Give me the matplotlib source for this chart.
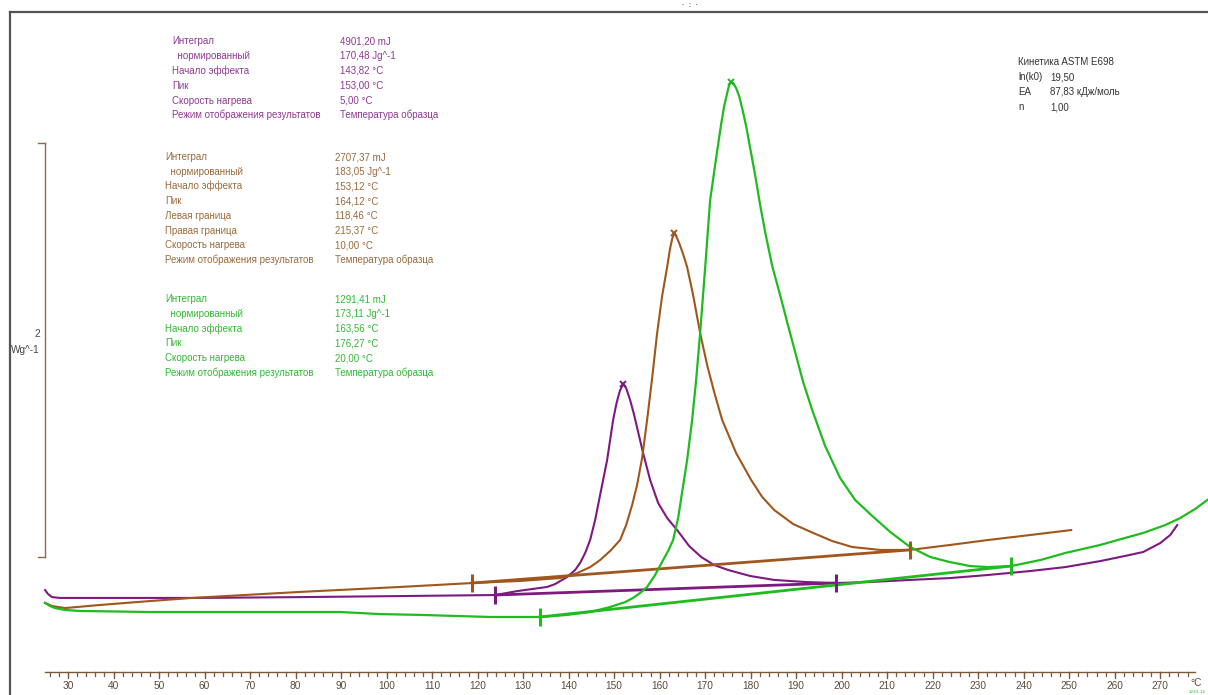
import matplotlib
matplotlib.use("Agg")
import matplotlib.pyplot as plt

# ---------------- data (°C, W/g) ----------------
purple_T = [24.95, 25.60, 26.48, 28.24, 59.01, 80.99, 102.97, 123.85, 128.68, 135.27,
            137.03, 139.67, 141.43, 142.53, 143.63, 144.73, 145.82, 146.92, 147.80, 148.46,
            149.12, 149.78, 150.44, 150.88, 151.32, 151.98, 152.64, 153.52, 154.40, 155.27,
            156.37, 157.91, 159.67, 161.65, 163.85, 166.48, 169.12, 171.98, 175.05, 179.89,
            185.16, 191.98, 198.79, 206.26, 215.05, 223.85, 232.20, 241.43, 249.12, 256.81,
            262.31, 266.26, 270.00, 272.20, 273.74]
purple_W = [0.048, 0.029, 0.014, 0.010, 0.010, 0.014, 0.019, 0.024, 0.043, 0.063,
            0.077, 0.111, 0.145, 0.179, 0.227, 0.290, 0.386, 0.507, 0.604, 0.676,
            0.773, 0.870, 0.942, 0.981, 1.014, 1.043, 1.024, 0.966, 0.894, 0.812,
            0.710, 0.580, 0.469, 0.396, 0.338, 0.261, 0.208, 0.169, 0.145, 0.116,
            0.097, 0.087, 0.082, 0.087, 0.097, 0.106, 0.121, 0.140, 0.159, 0.188,
            0.213, 0.232, 0.275, 0.314, 0.362]
purple_base_T = [123.85, 198.79]
purple_base_W = [0.024, 0.082]
purple_peak = (151.98, 1.043)

brown_T = [24.95, 26.48, 29.34, 37.03, 48.02, 57.25, 80.99, 102.97, 118.79, 129.34,
           138.13, 141.87, 144.73, 146.92, 149.12, 151.32, 152.64, 153.96, 155.05, 156.15,
           157.25, 158.35, 159.45, 160.55, 161.65, 162.31, 162.75, 163.19, 163.63, 164.29,
           165.16, 166.04, 167.36, 168.90, 170.44, 171.98, 173.74, 176.81, 180.11, 182.53,
           185.16, 189.34, 193.74, 197.91, 202.31, 208.46, 215.05, 223.85, 232.20, 241.43,
           250.44]
brown_W = [-0.014, -0.029, -0.039, -0.024, -0.005, 0.010, 0.039, 0.063, 0.082, 0.092,
           0.106, 0.130, 0.159, 0.193, 0.237, 0.290, 0.362, 0.459, 0.556, 0.686,
           0.870, 1.072, 1.290, 1.469, 1.609, 1.700, 1.744, 1.773, 1.758, 1.725,
           1.671, 1.609, 1.473, 1.290, 1.135, 1.005, 0.870, 0.710, 0.580, 0.498,
           0.435, 0.367, 0.324, 0.285, 0.256, 0.242, 0.242, 0.266, 0.290, 0.314,
           0.338]
brown_base_T = [118.79, 215.05]
brown_base_W = [0.082, 0.242]
brown_peak = (163.19, 1.773)

green_T = [24.95, 26.04, 27.14, 29.34, 32.64, 48.02, 89.78, 98.57, 107.36, 122.75,
           133.74, 139.67, 144.73, 149.12, 152.42, 154.18, 155.71, 157.25, 159.01, 160.77,
           161.87, 162.97, 164.07, 164.95, 166.04, 167.14, 168.02, 168.90, 170.00, 171.10,
           171.98, 172.64, 173.52, 174.18, 174.84, 175.27, 175.71, 176.15, 176.81, 177.47,
           178.13, 179.01, 179.89, 180.99, 182.09, 183.19, 184.73, 186.48, 188.02, 189.78,
           191.54, 193.52, 196.37, 199.67, 202.97, 206.48, 210.66, 215.05, 219.45, 223.63,
           228.24, 232.20, 237.25, 243.63, 249.12, 256.81, 262.31, 266.26, 271.10, 274.40,
           277.69, 280.33]
green_W = [-0.014, -0.029, -0.039, -0.048, -0.053, -0.058, -0.058, -0.068, -0.072, -0.082,
           -0.082, -0.072, -0.058, -0.034, -0.010, 0.010, 0.034, 0.063, 0.121, 0.193,
           0.237, 0.290, 0.396, 0.522, 0.676, 0.870, 1.063, 1.290, 1.604, 1.932,
           2.068, 2.169, 2.300, 2.386, 2.449, 2.488, 2.502, 2.498, 2.473, 2.435,
           2.377, 2.290, 2.184, 2.053, 1.908, 1.778, 1.614, 1.473, 1.343, 1.198,
           1.053, 0.918, 0.744, 0.589, 0.483, 0.411, 0.329, 0.256, 0.208, 0.184,
           0.164, 0.159, 0.164, 0.193, 0.227, 0.266, 0.300, 0.324, 0.362, 0.396,
           0.440, 0.483]
green_base_T = [133.74, 237.25]
green_base_W = [-0.082, 0.164]
green_peak = (175.71, 2.502)

x_ticks_major = list(range(30, 280, 10))
x_ticks_minor = list(range(26, 278, 2))

purple_labels = ["Интеграл", "  нормированный", "Начало эффекта", "Пик",
                 "Скорость нагрева", "Режим отображения результатов"]
purple_values = ["4901,20 mJ", "170,48 Jg^-1", "143,82 °C", "153,00 °C",
                 "5,00 °C", "Температура образца"]
brown_labels = ["Интеграл", "  нормированный", "Начало эффекта", "Пик", "Левая граница",
                "Правая граница", "Скорость нагрева", "Режим отображения результатов"]
brown_values = ["2707,37 mJ", "183,05 Jg^-1", "153,12 °C", "164,12 °C", "118,46 °C",
                "215,37 °C", "10,00 °C", "Температура образца"]
green_labels = ["Интеграл", "  нормированный", "Начало эффекта", "Пик",
                "Скорость нагрева", "Режим отображения результатов"]
green_values = ["1291,41 mJ", "173,11 Jg^-1", "163,56 °C", "176,27 °C",
                "20,00 °C", "Температура образца"]
kin_labels = ["Кинетика ASTM E698", "ln(k0)", "EA", "n"]
kin_values = ["", "19,50", "87,83 кДж/моль", "1,00"]

# ---------------- styling ----------------
C_PURPLE = "#7d1a80"
C_BROWN = "#a0561c"
C_GREEN = "#1fbb1f"
T_PURPLE = "#8e3a92"
T_BROWN = "#9a6a3c"
T_GREEN = "#33b833"
FONT = ["Liberation Sans", "DejaVu Sans"]

W, H = 1208, 695
fig = plt.figure(figsize=(W / 100, H / 100), dpi=100)
ax = fig.add_axes([0, 0, 1, 1])
ax.set_xlim(15.05, 280.5)
ax.set_ylim(-0.459, 2.899)
ax.axis("off")


def px(x, y):
    return x / W, 1 - y / H


# frame
fig.add_artist(plt.Line2D([10 / W, 10 / W], [0, 1 - 12 / H], color="#555555", lw=1.6))
fig.add_artist(plt.Line2D([10 / W, 1], [1 - 12 / H, 1 - 12 / H], color="#555555", lw=1.6))
fig.text(*px(690, 5), "·  :  ·", fontsize=5, color="#222222", ha="center", va="center")

# curves
ax.plot(purple_T, purple_W, color=C_PURPLE, lw=1.5, solid_joinstyle="round")
ax.plot(purple_base_T, purple_base_W, color=C_PURPLE, lw=2.0)
ax.plot(brown_T, brown_W, color=C_BROWN, lw=1.5, solid_joinstyle="round")
ax.plot(brown_base_T, brown_base_W, color=C_BROWN, lw=2.0)
ax.plot(green_T, green_W, color=C_GREEN, lw=1.6, solid_joinstyle="round")
ax.plot(green_base_T, green_base_W, color=C_GREEN, lw=2.0)

for bt, bw, c in [(purple_base_T, purple_base_W, C_PURPLE),
                  (brown_base_T, brown_base_W, C_BROWN),
                  (green_base_T, green_base_W, C_GREEN)]:
    ax.plot(bt, bw, linestyle="none", marker="|", markersize=13, mew=2.2, color=c)

for (pt, pw), c in [(purple_peak, C_PURPLE), (brown_peak, C_BROWN), (green_peak, C_GREEN)]:
    ax.plot([pt], [pw], linestyle="none", marker="x", markersize=5, mew=1.4, color=c)

# scale bar (2 W/g)
bar_x, bar_lo, bar_hi = 24.95, 0.208, 2.208
ax.plot([bar_x, bar_x], [bar_lo, bar_hi], color="#8a6a50", lw=1.0)
ax.plot([23.4, bar_x], [bar_lo, bar_lo], color="#8a6a50", lw=1.0)
ax.plot([23.4, bar_x], [bar_hi, bar_hi], color="#8a6a50", lw=1.0)
fig.text(*px(40, 337), "2", fontsize=7.2, color="#444444", ha="right", va="baseline", family=FONT)
fig.text(*px(40, 353), "Wg^-1", fontsize=7.2, color="#444444", ha="right", va="baseline", family=FONT)

# x axis (drawn as a scale at the bottom)
axis_y = -0.348
ax.plot([24.95, 277.7], [axis_y, axis_y], color="#7a5a3a", lw=1.0)
for t in x_ticks_minor:
    ax.plot([t, t], [axis_y, axis_y - 0.018], color="#7a5a3a", lw=0.9)
for t in x_ticks_major:
    ax.plot([t, t], [axis_y, axis_y - 0.03], color="#7a5a3a", lw=0.9)
    ax.text(t, -0.415, str(t), fontsize=7.3, color="#5a4a3a", ha="center", va="center",
            family=FONT)
fig.text(*px(1196, 683), "°C", fontsize=7.3, color="#5a4a3a", ha="center", va="center",
         family=FONT)
fig.text(*px(1197, 692), "1233-12", fontsize=3, color=C_GREEN, ha="center", va="center")


def block(labels, values, x_lab, x_val, y0, dy, color):
    for i, (lab, val) in enumerate(zip(labels, values)):
        y = y0 + i * dy + 3
        fig.text(*px(x_lab, y), lab, fontsize=7, color=color, ha="left", va="baseline",
                 family=FONT)
        fig.text(*px(x_val, y), val, fontsize=7, color=color, ha="left", va="baseline",
                 family=FONT)


block(purple_labels, purple_values, 172, 340, 41, 14.9, T_PURPLE)
block(brown_labels, brown_values, 165, 335, 157, 14.7, T_BROWN)
block(green_labels, green_values, 165, 335, 299, 14.8, T_GREEN)

for i, (lab, val) in enumerate(zip(kin_labels, kin_values)):
    y = 62 + i * 15 + 3
    fig.text(*px(1018, y), lab, fontsize=7, color="#333333", ha="left", va="baseline",
             family=FONT)
    if val:
        fig.text(*px(1050, y), val, fontsize=7, color="#333333", ha="left", va="baseline",
                 family=FONT)

fig.savefig("out.png", dpi=100, facecolor="white")
